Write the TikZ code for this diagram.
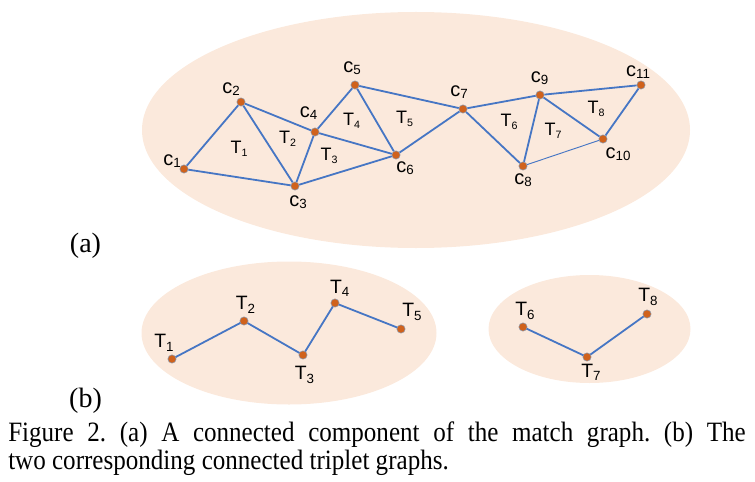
\documentclass[tikz,border=0pt]{standalone}
\usepackage{fontspec}
\setmainfont{Liberation Serif}
\newfontfamily\lsans{Liberation Sans}
\frenchspacing
\definecolor{GrFill}{RGB}{251,233,220}
\definecolor{GrEdge}{RGB}{70,118,196}
\definecolor{GrDot}{RGB}{208,98,28}
\definecolor{GrRim}{RGB}{140,150,170}
\newcommand{\clab}[1]{{\fontsize{15}{15}\selectfont c}\raisebox{-.3ex}{\fontsize{10}{10}\selectfont#1}}
\newcommand{\tlab}[1]{{\fontsize{13.5}{13.5}\selectfont T}\raisebox{-.5ex}{\fontsize{8}{8}\selectfont#1}}
\newcommand{\tblab}[1]{{\fontsize{14.5}{14.5}\selectfont T}\raisebox{-.5ex}{\fontsize{10}{10}\selectfont#1}}

\begin{document}
\begin{tikzpicture}[x=.75pt,y=-.75pt,
  dot/.style={circle,fill=GrDot,draw=GrRim,line width=.4pt,inner sep=0pt,minimum size=6.2pt},
  lab/.style={inner sep=0pt,font=\lsans},
  edge/.style={GrEdge,line width=1.35pt},
  captxt/.style={anchor=base west,inner sep=0pt,font=\fontsize{21}{21}\selectfont}]
\useasboundingbox (0,0) rectangle (755,481);
% match graph (a)
\fill[GrFill] (416,130) ellipse [x radius=274,y radius=118];
\node[dot](c1)at(184,169){};\node[dot](c2)at(241,102){};\node[dot](c3)at(295,186){};
\node[dot](c4)at(315,132){};\node[dot](c5)at(355,85){};\node[dot](c6)at(396,155){};
\node[dot](c7)at(463,109){};\node[dot](c8)at(523,166){};\node[dot](c9)at(540,95){};
\node[dot](c10)at(603,139){};\node[dot](c11)at(641,85){};
\draw[edge](c1)--(c2)(c1)--(c3)(c2)--(c3)(c2)--(c4)(c3)--(c4)(c3)--(c6)(c4)--(c5)(c4)--(c6)(c5)--(c6);
\draw[edge](c5)--(c7)(c6)--(c7)(c7)--(c9)(c7)--(c8)(c8)--(c9)(c9)--(c10)(c9)--(c11)(c10)--(c11);
\draw[GrEdge,line width=.7pt](c8)--(c10);
\node[lab](lc1)at(172,161){\clab{1}};\node[lab](lc2)at(231,89){\clab{2}};\node[lab](lc3)at(298,202){\clab{3}};
\node[lab](lc4)at(308.5,113){\clab{4}};\node[lab](lc5)at(352,68){\clab{5}};\node[lab](lc6)at(405,168){\clab{6}};
\node[lab](lc7)at(459,92){\clab{7}};\node[lab](lc8)at(523,180){\clab{8}};\node[lab](lc9)at(539.5,78){\clab{9}};
\node[lab](lc10)at(618,154.5){\clab{10}};\node[lab](lc11)at(638,72){\clab{11}};
\node[lab](ta1)at(239,149){\tlab{1}};\node[lab](ta2)at(287.5,139){\tlab{2}};\node[lab](ta3)at(329,156){\tlab{3}};
\node[lab](ta4)at(351.5,121){\tlab{4}};\node[lab](ta5)at(404.7,119){\tlab{5}};\node[lab](ta6)at(509,121.7){\tlab{6}};
\node[lab](ta7)at(553,131){\tlab{7}};\node[lab](ta8)at(596,109){\tlab{8}};
% triplet graphs (b)
\fill[GrFill] (289,333) ellipse [x radius=147.5,y radius=71.5];
\fill[GrFill] (589.5,329) ellipse [x radius=101,y radius=54];
\draw[edge](172,359)coordinate(p1)--(244,321)coordinate(p2)--(303,355)coordinate(p3)--(335,303)coordinate(p4)--(401,329)coordinate(p5);
\draw[edge](523,327)coordinate(p6)--(587,357)coordinate(p7)--(647,314)coordinate(p8);
\foreach \i in {1,...,8}{\node[dot](t\i)at(p\i){};}
\node[lab](tb1)at(164,343){\tblab{1}};\node[lab](tb2)at(245.5,304.7){\tblab{2}};\node[lab](tb3)at(304.5,374.7){\tblab{3}};
\node[lab](tb4)at(339.7,288.3){\tblab{4}};\node[lab](tb5)at(412,312){\tblab{5}};\node[lab](tb6)at(525,311){\tblab{6}};
\node[lab](tb7)at(591,372.5){\tblab{7}};\node[lab](tb8)at(648,297){\tblab{8}};
% panel marks and caption
\node[anchor=base,inner sep=0pt,font=\fontsize{21}{21}\selectfont](pa)at(85.5,252){(a)};
\node[anchor=base,inner sep=0pt,font=\fontsize{21}{21}\selectfont](pb)at(85.5,407){(b)};
\node[captxt](cap1)at(8,441){\scalebox{.895}[1]{\makebox[618pt][s]{Figure 2. (a) A connected component of the match graph. (b) The}}};
\node[captxt](cap2)at(8,469){\scalebox{.895}[1]{two corresponding connected triplet graphs.}};
\end{tikzpicture}
\end{document}
